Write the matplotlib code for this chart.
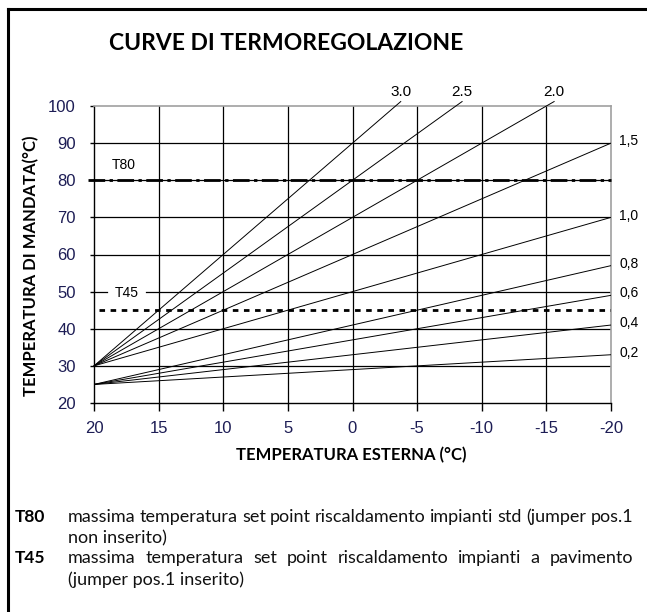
import matplotlib.pyplot as plt
from matplotlib.lines import Line2D

# Curve parameters: outdoor temperature span, slopes and starting flow temps
t_start = 20
t_end = -20
slopes_high = [3.0, 2.5, 2.0, 1.5, 1.0]   # curves starting at 30 °C
slopes_low = [0.8, 0.6, 0.4, 0.2]         # curves starting at 25 °C
base_high = 30
base_low = 25
labels_high = ['3.0', '2.5', '2.0', '1,5', '1,0']
labels_low = ['0,8', '0,6', '0,4', '0,2']

# Set point limits
t80 = 80
t45 = 45

x_ticks = [20, 15, 10, 5, 0, -5, -10, -15, -20]
y_ticks = [20, 30, 40, 50, 60, 70, 80, 90, 100]

notes = [
    ('T80', 'massima temperatura set point riscaldamento impianti std (jumper pos.1', 'non inserito)'),
    ('T45', 'massima temperatura set point riscaldamento impianti a pavimento', '(jumper pos.1 inserito)'),
]

W, H = 647, 612
fig = plt.figure(figsize=(W / 100, H / 100), dpi=100)
fig.patch.set_facecolor('white')

def px(x, y):
    return x / W, 1 - y / H

ax = fig.add_axes([94 / W, 1 - 403 / H, (611 - 94) / W, (403 - 106) / H])
ax.set_xlim(t_start, t_end)
ax.set_ylim(20, 100)

tick_color = '#1d1d55'
ax.set_xticks(x_ticks, labels=[str(v) for v in x_ticks])
ax.set_yticks(y_ticks, labels=[str(v) for v in y_ticks])
for lab in ax.get_xticklabels() + ax.get_yticklabels():
    lab.set_fontfamily('Liberation Sans')
    lab.set_fontsize(12)
    lab.set_color(tick_color)
ax.tick_params(axis='x', length=6, width=1, pad=7)
ax.tick_params(axis='y', length=3, width=1, pad=10)

# grid (the 50 line leaves room for the T45 tag)
for v in x_ticks[1:-1]:
    ax.axvline(v, color='black', lw=0.9, zorder=1)
for v in y_ticks[1:-1]:
    if v == 50:
        continue
    ax.axhline(v, color='black', lw=0.9, zorder=1)
ax.plot([t_start, 19.0], [50, 50], color='black', lw=0.9, zorder=1)
ax.plot([16.0, t_end], [50, 50], color='black', lw=0.9, zorder=1)

for s in ['left', 'bottom']:
    ax.spines[s].set_color('black')
    ax.spines[s].set_linewidth(1)
for s in ['top', 'right']:
    ax.spines[s].set_color('#a0a0a0')
    ax.spines[s].set_linewidth(1.2)

# heating curves
y_cap = 101.2
for slopes, base, labels in [(slopes_high, base_high, labels_high),
                             (slopes_low, base_low, labels_low)]:
    for k, lab in zip(slopes, labels):
        y_far = base + k * (t_start - t_end)
        if y_far > 100:
            x1 = t_start - (y_cap - base) / k
            ax.plot([t_start, x1], [base, y_cap], color='black', lw=0.7,
                    clip_on=False, zorder=3)
            ax.annotate(lab, (x1, y_cap), xytext=(0, 2), textcoords='offset points',
                        ha='center', va='bottom', fontsize=11,
                        family='Liberation Sans', annotation_clip=False)
        else:
            ax.plot([t_start, t_end], [base, y_far], color='black', lw=0.7, zorder=3)
            ax.annotate(lab, (t_end, y_far + 0.5), xytext=(6, 0), textcoords='offset points',
                        ha='left', va='center', fontsize=10,
                        family='Liberation Sans', annotation_clip=False)

# set point limits
ax.plot([20.5, t_end], [t80, t80], color='black', lw=2,
        linestyle=(0, (6, 1.6, 1.2, 1.6)), clip_on=False, zorder=4)
ax.plot([19.6, t_end], [t45, t45], color='black', lw=2,
        linestyle=(0, (2, 2)), zorder=4)
ax.text(18.6, 84.2, 'T80', fontsize=10, family='Liberation Sans', va='center', zorder=5)
ax.text(18.4, 49.7, 'T45', fontsize=10, family='Liberation Sans', va='center', zorder=5)

# titles
fig.text(*px(286, 44), 'CURVE DI TERMOREGOLAZIONE', ha='center', va='center',
         fontsize=16.5, fontweight='bold', family='Lato')
fig.text(*px(351, 455), 'TEMPERATURA ESTERNA (°C)', ha='center', va='center',
         fontsize=12, fontweight='bold', family='Lato')
fig.text(*px(31, 266), 'TEMPERATURA DI MANDATA(°C)', ha='center', va='center',
         rotation=90, fontsize=12, fontweight='bold', family='Lato')

# footnotes, first line of each paragraph justified
renderer = fig.canvas.get_renderer()
def justified(line, x0, x1, y, **kw):
    words = line.split()
    texts = [fig.text(*px(x0, y), w, va='baseline', **kw) for w in words]
    widths = [t.get_window_extent(renderer).width for t in texts]
    gap = (x1 - x0 - sum(widths)) / (len(words) - 1)
    pos = x0
    for t, w in zip(texts, widths):
        t.set_x(pos / W)
        pos += w + gap

note_kw = dict(fontsize=13, family='Lato', color='#111111')
baselines = [(522, 543), (563, 585)]
for (key, first, second), (y1, y2) in zip(notes, baselines):
    fig.text(*px(15, y1), key, va='baseline', fontsize=12.5, fontweight='bold', family='Lato')
    justified(first, 68, 633, y1, **note_kw)
    fig.text(*px(68, y2), second, va='baseline', **note_kw)

# outer frame (left and top edges)
fig.add_artist(Line2D([8 / W, 8 / W], [0, 1 - 8.5 / H], color='black', lw=2.2))
fig.add_artist(Line2D([8 / W, 1], [1 - 8.5 / H, 1 - 8.5 / H], color='black', lw=2.2))

fig.savefig('out.png', dpi=100)
